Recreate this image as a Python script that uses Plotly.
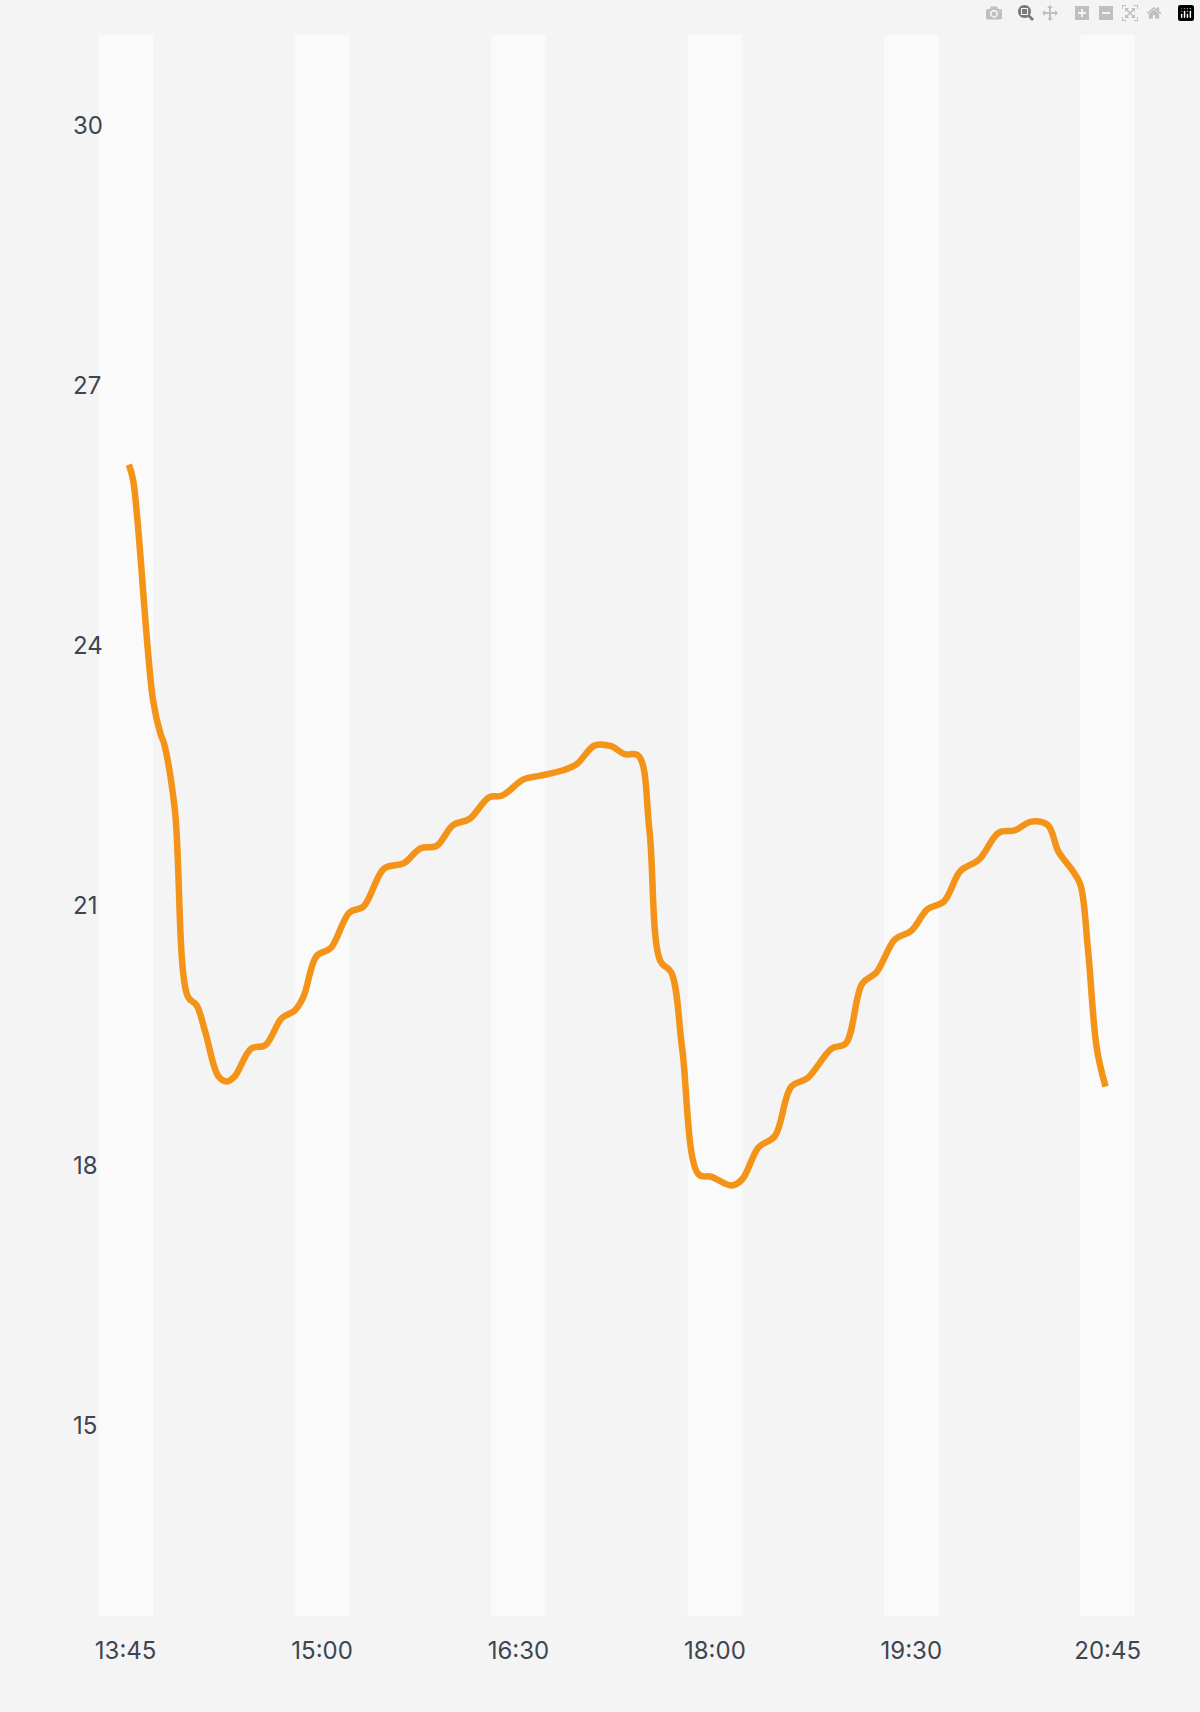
import plotly.graph_objects as go

minutes = [1.5,3.5,12.5,16,17.5,22.5,28.5,32.5,36.5,42.5,46.5,50,57.5,64,71.5,77.5,81.5,87.5,94,102.5,109,118.5,127.5,135,142.5,150,157.5,166.5,172.5,182.5,190,200,206.5,215,222.5,228.5,235,240,245,250,255,262.5,268.5,277.5,282.5,290,297.5,305,312.5,323.5,330,337.5,344,352.5,360,367.5,375,382.5,391,400,407.5,415,422.5,427.5,434,437.5,441,445,449]
values = [26.09,25.90,23.38,22.98,22.88,22.12,19.95,19.85,19.54,19.03,18.97,19.03,19.35,19.39,19.70,19.79,19.95,20.42,20.51,20.92,20.99,21.43,21.49,21.66,21.69,21.93,22.0,22.25,22.27,22.46,22.50,22.56,22.63,22.85,22.84,22.75,22.73,21.87,20.36,20.23,19.35,17.90,17.87,17.77,17.84,18.21,18.34,18.91,19.01,19.35,19.41,20.10,20.23,20.61,20.71,20.96,21.05,21.40,21.53,21.84,21.87,21.97,21.93,21.62,21.40,21.24,20.48,19.35,18.91]
tick_minutes = [0, 90, 180, 270, 360, 450]
tick_labels = ["13:45", "15:00", "16:30", "18:00", "19:30", "20:45"]
y_ticks = [15, 18, 21, 24, 27, 30]

fig = go.Figure(go.Scatter(x=minutes, y=values, mode="lines",
                           line=dict(color="#F39419", width=6.5, shape="spline", smoothing=1.0),
                           hoverinfo="skip"))
for t in tick_minutes:
    fig.add_shape(type="rect", xref="x", yref="paper", x0=t-12.5, x1=t+12.5, y0=0, y1=1,
                  fillcolor="#fafafa", line_width=0, layer="below")

font = dict(family="Inter, Noto Sans, sans-serif", size=24, color="#3c4550")
fig.update_layout(
    width=1200, height=1712, paper_bgcolor="#f4f4f4", plot_bgcolor="#f4f4f4",
    margin=dict(l=70, r=65, t=35, b=96), showlegend=False,
    xaxis=dict(range=[-25.5, 462.5], tickvals=tick_minutes, ticktext=tick_labels,
               showgrid=False, zeroline=False, showline=False, tickfont=font, ticks="", ticklabelstandoff=18),
    yaxis=dict(range=[12.8, 31.05], tickvals=y_ticks, showgrid=False, zeroline=False,
               showline=False, tickfont=font, ticks="", ticklabelposition="inside"),
)
fig.write_html("out.html", post_script="document.body.style.margin='0';document.body.style.background='#f4f4f4';")
